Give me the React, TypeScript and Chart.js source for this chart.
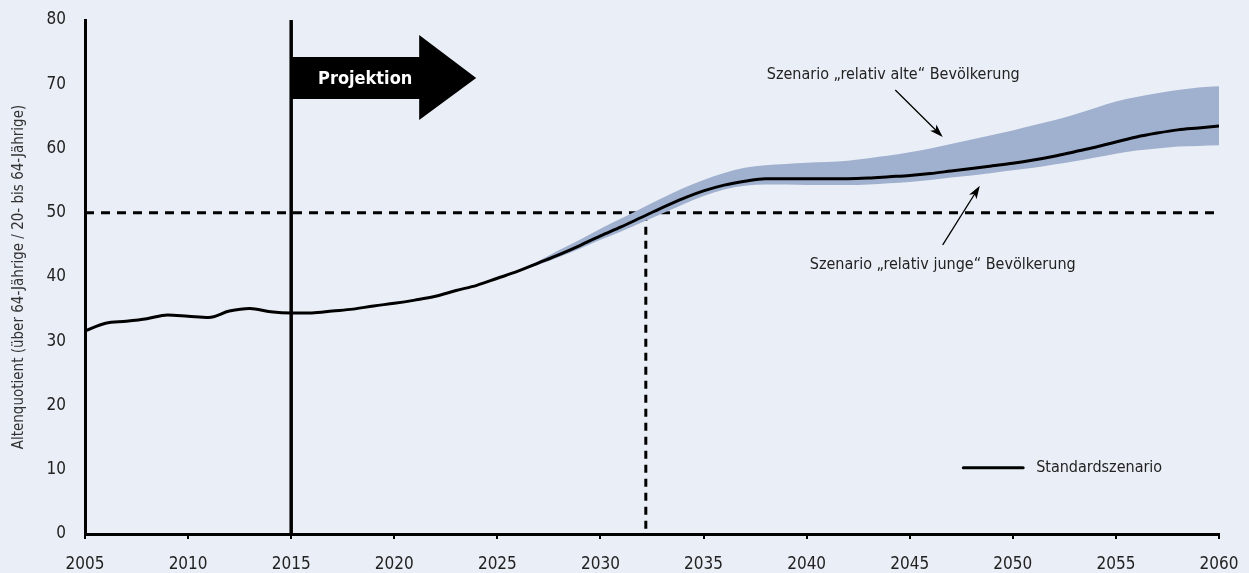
import { useEffect, useRef } from 'react';
import { Chart, registerables } from 'chart.js';

Chart.register(...registerables);

const years = [2005, 2006, 2007, 2008, 2009, 2010, 2011, 2012, 2013, 2014, 2015, 2016, 2017, 2018, 2019, 2020,
  2021, 2022, 2023, 2024, 2025, 2026, 2027, 2028, 2029, 2030, 2031, 2032, 2033, 2034, 2035, 2036, 2037, 2038,
  2039, 2040, 2041, 2042, 2043, 2044, 2045, 2046, 2047, 2048, 2049, 2050, 2051, 2052, 2053, 2054, 2055, 2056,
  2057, 2058, 2059, 2060];

const standard = [31.6, 32.8, 33.1, 33.5, 34.1, 33.9, 33.7, 34.7, 35.1, 34.6, 34.4, 34.4, 34.7, 35.0, 35.5, 35.9,
  36.4, 37.0, 37.9, 38.7, 39.8, 40.9, 42.2, 43.5, 44.9, 46.4, 47.8, 49.3, 50.8, 52.2, 53.4, 54.3, 54.9, 55.3,
  55.3, 55.3, 55.3, 55.3, 55.4, 55.6, 55.8, 56.1, 56.5, 56.9, 57.3, 57.7, 58.2, 58.8, 59.5, 60.2, 61.0, 61.8,
  62.4, 62.9, 63.2, 63.5];

const bandYears = [2025, 2026, 2027, 2028, 2029, 2030, 2031, 2032, 2033, 2034, 2035, 2036, 2037, 2038, 2039,
  2040, 2041, 2042, 2043, 2044, 2045, 2046, 2047, 2048, 2049, 2050, 2051, 2052, 2053, 2054, 2055, 2056, 2057,
  2058, 2059, 2060];

const relativAlt = [39.8, 41.0, 42.5, 44.2, 45.8, 47.5, 49.1, 50.7, 52.3, 53.8, 55.1, 56.2, 57.0, 57.4, 57.6,
  57.8, 57.9, 58.1, 58.5, 58.9, 59.4, 60.0, 60.7, 61.4, 62.1, 62.8, 63.6, 64.4, 65.3, 66.3, 67.3, 68.0, 68.6,
  69.1, 69.5, 69.7];

const relativJung = [39.8, 40.8, 41.9, 43.1, 44.4, 45.8, 47.1, 48.5, 49.9, 51.3, 52.6, 53.6, 54.2, 54.4, 54.4,
  54.3, 54.3, 54.3, 54.4, 54.6, 54.8, 55.1, 55.5, 55.8, 56.2, 56.6, 57.0, 57.5, 58.0, 58.6, 59.2, 59.7, 60.0,
  60.3, 60.4, 60.5];

const xTicks = [2005, 2010, 2015, 2020, 2025, 2030, 2035, 2040, 2045, 2050, 2055, 2060];
const yTicks = [0, 10, 20, 30, 40, 50, 60, 70, 80];

const projectionYear = 2015;
const threshold = 50;
const crossYear = 2032.2;

const seriesLabel = 'Standardszenario';
const projectionLabel = 'Projektion';
const altLabel = 'Szenario \u201Erelativ alte\u201C Bev\u00F6lkerung';
const jungLabel = 'Szenario \u201Erelativ junge\u201C Bev\u00F6lkerung';
const yTitle = 'Altenquotient (\u00FCber 64-J\u00E4hrige / 20- bis 64-J\u00E4hrige)';

// annotation anchor points in data coordinates
const altText = { x: 2044.2, y: 71.4 };
const altArrow = { x1: 2044.3, y1: 69.1, x2: 2046.6, y2: 61.8 };
const jungText = { x: 2046.6, y: 41.9 };
const jungArrow = { x1: 2046.6, y1: 45.0, x2: 2048.4, y2: 54.2 };
const legendPos = { x1: 2047.6, x2: 2050.5, y: 10.3 };

const BG = '#eaeef6';
const BAND = '#a0b0cf';
const FONT = '"Liberation Sans Narrow", "DejaVu Sans Condensed", "Liberation Sans", sans-serif';
const TXT = '#222222';

function arrowHead(ctx: CanvasRenderingContext2D, x1: number, y1: number, x2: number, y2: number) {
  const ang = Math.atan2(y2 - y1, x2 - x1);
  const len = 14;
  const w = 0.32;
  ctx.beginPath();
  ctx.moveTo(x2, y2);
  ctx.lineTo(x2 - len * Math.cos(ang - w), y2 - len * Math.sin(ang - w));
  ctx.lineTo(x2 - len * 0.7 * Math.cos(ang), y2 - len * 0.7 * Math.sin(ang));
  ctx.lineTo(x2 - len * Math.cos(ang + w), y2 - len * Math.sin(ang + w));
  ctx.closePath();
  ctx.fill();
}

const decorPlugin = {
  id: 'decor',
  beforeDraw(chart: any) {
    const { ctx, width, height } = chart;
    ctx.save();
    ctx.fillStyle = BG;
    ctx.fillRect(0, 0, width, height);
    ctx.restore();
  },
  beforeDatasetsDraw(chart: any) {
    const { ctx, scales } = chart;
    const xs = scales.x;
    const ys = scales.y;
    ctx.save();
    ctx.strokeStyle = '#000';
    ctx.lineWidth = 3;
    ctx.setLineDash([9, 7]);
    ctx.beginPath();
    ctx.moveTo(xs.getPixelForValue(2005), ys.getPixelForValue(threshold));
    ctx.lineTo(xs.getPixelForValue(2060), ys.getPixelForValue(threshold));
    ctx.stroke();
    ctx.setLineDash([8, 6]);
    ctx.beginPath();
    ctx.moveTo(xs.getPixelForValue(crossYear), ys.getPixelForValue(threshold));
    ctx.lineTo(xs.getPixelForValue(crossYear), ys.getPixelForValue(0));
    ctx.stroke();
    ctx.restore();
  },
  afterDatasetsDraw(chart: any) {
    const { ctx, scales } = chart;
    const xs = scales.x;
    const ys = scales.y;
    ctx.save();
    // projection vertical line
    const px = xs.getPixelForValue(projectionYear);
    ctx.strokeStyle = '#000';
    ctx.lineWidth = 3.5;
    ctx.beginPath();
    ctx.moveTo(px, ys.getPixelForValue(80));
    ctx.lineTo(px, ys.getPixelForValue(0));
    ctx.stroke();

    // projection arrow
    const top = ys.top;
    ctx.fillStyle = '#000';
    ctx.beginPath();
    ctx.moveTo(px, top + 37);
    ctx.lineTo(px + 128, top + 37);
    ctx.lineTo(px + 128, top + 15);
    ctx.lineTo(px + 185, top + 58);
    ctx.lineTo(px + 128, top + 100);
    ctx.lineTo(px + 128, top + 79);
    ctx.lineTo(px, top + 79);
    ctx.closePath();
    ctx.fill();
    ctx.fillStyle = '#ffffff';
    ctx.font = 'bold 18px ' + FONT;
    ctx.textAlign = 'center';
    ctx.textBaseline = 'middle';
    ctx.fillText(projectionLabel, px + 74, top + 59);

    // annotations
    ctx.fillStyle = TXT;
    ctx.font = '16px ' + FONT;
    ctx.fillText(altLabel, xs.getPixelForValue(altText.x), ys.getPixelForValue(altText.y));
    ctx.fillText(jungLabel, xs.getPixelForValue(jungText.x), ys.getPixelForValue(jungText.y));

    ctx.strokeStyle = '#000';
    ctx.fillStyle = '#000';
    ctx.lineWidth = 1.3;
    for (const a of [altArrow, jungArrow]) {
      const x1 = xs.getPixelForValue(a.x1);
      const y1 = ys.getPixelForValue(a.y1);
      const x2 = xs.getPixelForValue(a.x2);
      const y2 = ys.getPixelForValue(a.y2);
      ctx.beginPath();
      ctx.moveTo(x1, y1);
      ctx.lineTo(x2 - (x2 - x1) * 0.08, y2 - (y2 - y1) * 0.08);
      ctx.stroke();
      arrowHead(ctx, x1, y1, x2, y2);
    }

    // legend
    const ly = ys.getPixelForValue(legendPos.y);
    ctx.lineWidth = 3;
    ctx.lineCap = 'round';
    ctx.beginPath();
    ctx.moveTo(xs.getPixelForValue(legendPos.x1), ly);
    ctx.lineTo(xs.getPixelForValue(legendPos.x2), ly);
    ctx.stroke();
    ctx.fillStyle = TXT;
    ctx.textAlign = 'left';
    ctx.fillText(seriesLabel, xs.getPixelForValue(legendPos.x2) + 13, ly);
    ctx.restore();
  },
};

export default function App() {
  const ref = useRef<HTMLCanvasElement | null>(null);
  useEffect(() => {
    if (!ref.current) return;
    const chart = new Chart(ref.current, {
      type: 'line',
      data: {
        datasets: [
          {
            label: seriesLabel,
            data: years.map((y, i) => ({ x: y, y: standard[i] })),
            borderColor: '#000',
            borderWidth: 3,
            pointRadius: 0,
            tension: 0.3,
            cubicInterpolationMode: 'monotone',
            fill: false,
          },
          {
            label: 'alt',
            data: bandYears.map((y, i) => ({ x: y, y: relativAlt[i] })),
            borderWidth: 0,
            borderColor: 'rgba(0,0,0,0)',
            backgroundColor: BAND,
            pointRadius: 0,
            tension: 0.3,
            cubicInterpolationMode: 'monotone',
            fill: '+1',
          },
          {
            label: 'jung',
            data: bandYears.map((y, i) => ({ x: y, y: relativJung[i] })),
            borderWidth: 0,
            borderColor: 'rgba(0,0,0,0)',
            pointRadius: 0,
            tension: 0.3,
            cubicInterpolationMode: 'monotone',
            fill: false,
          },
        ],
      } as any,
      options: {
        animation: false,
        responsive: false,
        maintainAspectRatio: false,
        layout: { padding: { left: 0, right: 30, top: 20, bottom: 0 } },
        plugins: { legend: { display: false }, tooltip: { enabled: false } },
        scales: {
          x: {
            type: 'linear',
            min: 2005,
            max: 2060,
            afterBuildTicks: (s: any) => { s.ticks = xTicks.map((v) => ({ value: v })); },
            afterFit: (s: any) => { s.height = 39; s.paddingLeft = 0; s.paddingRight = 0; },
            ticks: {
              callback: (v: any) => String(v),
              color: TXT,
              font: { family: FONT, size: 17 },
              padding: 15,
              maxRotation: 0,
            },
            grid: { display: true, drawOnChartArea: false, drawTicks: true, tickLength: 5, color: '#000', lineWidth: 2 },
            border: { display: true, color: '#000', width: 3 },
          },
          y: {
            type: 'linear',
            min: 0,
            max: 80,
            afterBuildTicks: (s: any) => { s.ticks = yTicks.map((v) => ({ value: v })); },
            afterFit: (s: any) => { s.width = 85; s.paddingTop = 0; s.paddingBottom = 0; },
            ticks: {
              color: TXT,
              font: { family: FONT, size: 17 },
              padding: 19,
            },
            title: {
              display: true,
              text: yTitle,
              color: '#333',
              font: { family: FONT, size: 15 },
              padding: { top: 10, bottom: 4 },
            },
            grid: { display: false, drawTicks: false },
            border: { display: true, color: '#000', width: 3 },
          },
        },
      } as any,
      plugins: [decorPlugin],
    });
    return () => chart.destroy();
  }, []);
  return (
    <div style={{ position: 'fixed', left: 0, top: 0, width: 1249, height: 573, background: BG }}>
      <canvas ref={ref} width={1249} height={573} style={{ display: 'block', width: 1249, height: 573 }} />
    </div>
  );
}
